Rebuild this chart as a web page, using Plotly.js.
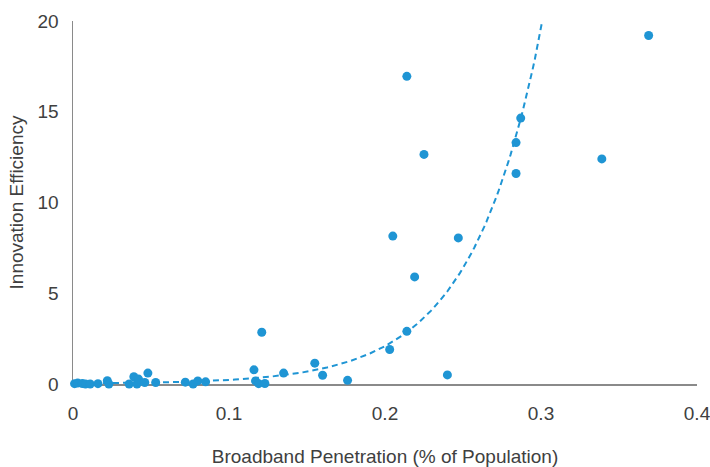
<!DOCTYPE html>
<html>
<head>
<meta charset="utf-8">
<script src="https://cdn.plot.ly/plotly-3.0.1.min.js"></script>
<style>html,body{margin:0;padding:0;background:#fff;}#chart{width:710px;height:467px;}</style>
</head>
<body>
<div id="chart"></div>
<script>
// Broadband penetration (share of population) for each observation
const penetration = [0.001, 0.003, 0.006, 0.008, 0.011, 0.016, 0.022, 0.023,
  0.036, 0.039, 0.041, 0.042, 0.046, 0.048, 0.053,
  0.072, 0.077, 0.080, 0.085,
  0.116, 0.117, 0.119, 0.121, 0.123, 0.135,
  0.155, 0.160, 0.176, 0.203, 0.205, 0.214, 0.214, 0.219, 0.225, 0.240, 0.247,
  0.284, 0.284, 0.287, 0.339, 0.369];
// Innovation efficiency for each observation
const efficiency = [0.02, 0.05, 0.03, 0.0, 0.0, 0.02, 0.18, 0.0,
  0.0, 0.4, 0.0, 0.27, 0.08, 0.6, 0.08,
  0.1, 0.0, 0.17, 0.12,
  0.78, 0.17, 0.02, 2.85, 0.03, 0.6,
  1.15, 0.48, 0.2, 1.9, 8.15, 2.9, 16.95, 5.9, 12.65, 0.5, 8.05,
  13.3, 11.6, 14.65, 12.4, 19.2];
// Exponential trendline coefficients: y = trendA * exp(trendB * x)
const trendA = 0.0238;
const trendB = 22.37;
const trendXMax = 0.31;
const xTicks = [0, 0.1, 0.2, 0.3, 0.4];
const yTicks = [0, 5, 10, 15, 20];

const tx = [], ty = [];
for (let i = 0; i <= 200; i++) {
  const x = trendXMax * i / 200;
  tx.push(x);
  ty.push(trendA * Math.exp(trendB * x));
}

const blue = '#1f95d4';
const font = {family: 'Liberation Sans, Arial, sans-serif', size: 19, color: '#404040'};

const data = [
  {x: tx, y: ty, mode: 'lines', type: 'scatter', hoverinfo: 'skip',
   line: {color: blue, width: 2, dash: '6px,4px'}},
  {x: penetration, y: efficiency, mode: 'markers', type: 'scatter', cliponaxis: false,
   marker: {color: blue, size: 9}}
];

const layout = {
  width: 710, height: 467,
  margin: {l: 73, r: 13, t: 21, b: 83},
  paper_bgcolor: '#fff', plot_bgcolor: '#fff',
  showlegend: false,
  font: font,
  xaxis: {
    range: [0, 0.4], tickvals: xTicks, ticktext: xTicks.map(String),
    showgrid: false, zeroline: false, showline: true, linecolor: '#8a8a8a', linewidth: 1.5,
    ticks: '', ticklabelstandoff: 12, ticklabeloverflow: 'allow', layer: 'below traces',
    tickfont: font,
    title: {text: 'Broadband Penetration (% of Population)', font: font, standoff: 27}
  },
  yaxis: {
    range: [0, 20], tickvals: yTicks, ticktext: yTicks.map(String),
    showgrid: false, zeroline: false, showline: true, linecolor: '#8a8a8a', linewidth: 1.5,
    ticks: '', ticklabelstandoff: 9, ticklabeloverflow: 'allow', layer: 'below traces',
    tickfont: font,
    title: {text: 'Innovation Efficiency', font: font, standoff: 9}
  }
};

Plotly.newPlot('chart', data, layout, {displayModeBar: false, staticPlot: true});
</script>
</body>
</html>
